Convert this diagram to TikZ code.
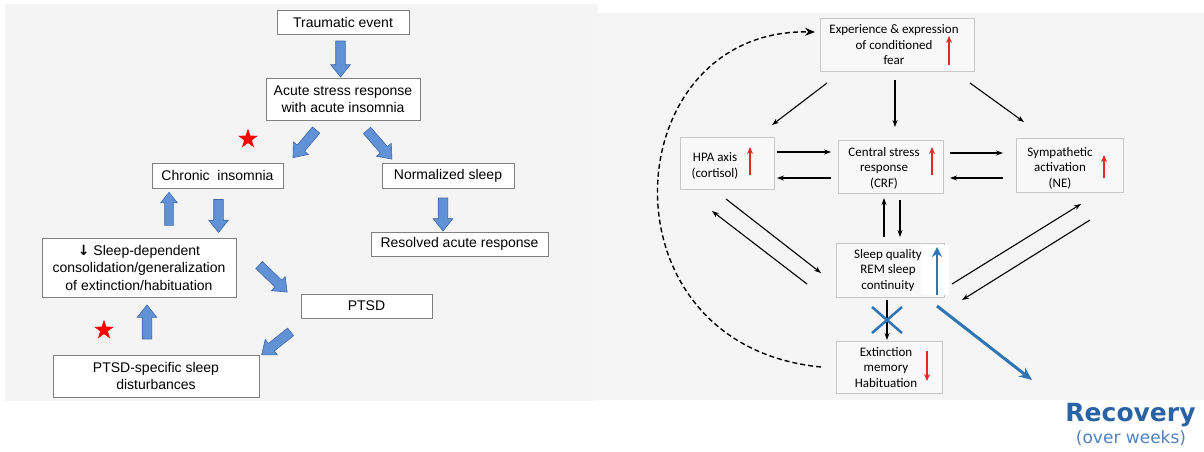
\documentclass[tikz,border=0pt]{standalone}
\usepackage{fontspec}
\setmainfont{Liberation Sans}
\newfontfamily\lsans{Liberation Sans}
\newfontfamily\calib{Carlito}
\newfontfamily\dvs{DejaVu Sans}
\usetikzlibrary{shapes.arrows,shapes.geometric,arrows.meta}
\definecolor{lbg}{RGB}{244,244,244}
\definecolor{rbg}{RGB}{245,245,245}
\definecolor{rboxfill}{RGB}{248,248,248}
\definecolor{lborder}{RGB}{128,128,128}
\definecolor{rborder}{RGB}{200,200,200}
\definecolor{bfill}{RGB}{98,146,214}
\definecolor{bdraw}{RGB}{62,104,170}
\definecolor{oblue}{RGB}{46,117,182}
\definecolor{ored}{RGB}{226,40,40}
\definecolor{recblue}{RGB}{40,100,165}
\definecolor{wkblue}{RGB}{80,130,190}
\begin{document}
\begin{tikzpicture}[x=1pt,y=-1pt,
 lbox/.style={draw=lborder,fill=white,line width=0.8pt,inner sep=0pt,align=center,font=\lsans\fontsize{14}{17.5}\selectfont},
 rbox/.style={draw=rborder,fill=rboxfill,line width=0.8pt,inner sep=0pt},
 rtext/.style={font=\calib\fontsize{13}{15.5}\selectfont,align=center,inner sep=0pt},
 barrow/.style={single arrow,draw=bdraw,fill=bfill,line width=0.6pt,inner xsep=0pt,inner ysep=4.5pt,single arrow head extend=5pt,single arrow tip angle=77,anchor=center},
 thinbarrow/.style={barrow,inner ysep=4pt,single arrow head extend=4pt},
 arr/.style={line width=1.1pt,-{Stealth[length=7pt,width=5pt]}},
 redarr/.style={ored,line width=1.8pt,-{Stealth[length=7pt,width=6pt]}},
 redstar/.style={star,star points=5,star point ratio=2.6,fill=red,draw=none,minimum size=21pt,inner sep=0pt},
 xline/.style={oblue,line width=2.5pt},
]
\useasboundingbox (0,0) rectangle (1204,451);
\fill[white] (0,0) rectangle (1204,451);
\fill[lbg] (5,4) rectangle (598,401);
\fill[rbg] (598,13) rectangle (1204,400);

% ---------------- left panel ----------------
\node[lbox,minimum width=132pt,minimum height=24pt] (trauma) at (343,22) {Traumatic event};
\node[lbox,minimum width=154pt,minimum height=42pt] (acute) at (343,99) {Acute stress response\\with acute insomnia};
\node[lbox,minimum width=131pt,minimum height=25pt] (chronic) at (217.5,175.5) {Chronic\ \ insomnia};
\node[lbox,minimum width=132pt,minimum height=25pt] (normal) at (448,175.5) {Normalized sleep};
\node[lbox,minimum width=177pt,minimum height=24pt] (resolved) at (459.5,244) {Resolved acute response};
\node[lbox,minimum width=194pt,minimum height=59pt] (sleepdep) at (139,267.5) {{\dvs\bfseries ↓} Sleep-dependent\\consolidation/generalization\\of extinction/habituation};
\node[lbox,minimum width=131pt,minimum height=24pt] (ptsd) at (366.5,306) {PTSD};
\node[lbox,minimum width=206pt,minimum height=42pt] (ptsdsleep) at (156,376) {PTSD-specific sleep\\disturbances};

\node[barrow,minimum height=36pt,rotate=-90] (b1) at (340.5,56) {};
\node[barrow,minimum height=36pt,rotate=-130] (b2) at (306.5,141.5) {};
\node[barrow,minimum height=38pt,rotate=-49] (b3) at (377.5,142.5) {};
\node[thinbarrow,minimum height=33pt,rotate=90] (b4) at (169,211.5) {};
\node[barrow,minimum height=33pt,rotate=-90] (b5) at (218.5,213) {};
\node[barrow,minimum height=33pt,rotate=-90] (b6) at (443,211.5) {};
\node[barrow,minimum height=39pt,rotate=-44] (b7) at (271,276.5) {};
\node[barrow,minimum height=37pt,rotate=-141.6] (b8) at (278.5,341.5) {};
\node[barrow,minimum height=34pt,rotate=90] (b9) at (147,325) {};

\node[redstar] (star1) at (248,139) {};
\node[redstar] (star2) at (104,330) {};

% ---------------- right panel ----------------
\node[rbox,minimum width=154pt,minimum height=53pt] (exp) at (897,44.5) {};
\node[rbox,minimum width=94pt,minimum height=52pt] (hpa) at (727,163) {};
\node[rbox,minimum width=105pt,minimum height=53pt] (crf) at (890.5,166.5) {};
\node[rbox,minimum width=107pt,minimum height=54pt] (sym) at (1069.5,165) {};
\node[rbox,minimum width=108pt,minimum height=54pt] (slp) at (890,270) {};
\node[rbox,minimum width=106pt,minimum height=52pt] (ext) at (889,367) {};
\fill[white] (921,245) rectangle (949,295);

\node[rtext] (expT) at (894,45) {Experience \& expression\\of conditioned\\fear};
\node[rtext] (hpaT) at (715,166) {HPA axis\\(cortisol)};
\node[rtext] (crfT) at (884,168) {Central stress\\response\\(CRF)};
\node[rtext] (symT) at (1060,168) {Sympathetic\\activation\\(NE)};
\node[rtext] (slpT) at (888,270.5) {Sleep quality\\REM sleep\\continuity};
\node[rtext] (extT) at (886,367.5) {Extinction\\memory\\Habituation};

% red indicator arrows
\coordinate (rA1) at (949,65); \coordinate (rA2) at (949,36);
\coordinate (rB1) at (750,175); \coordinate (rB2) at (750,147);
\coordinate (rC1) at (932,175); \coordinate (rC2) at (932,147);
\coordinate (rD1) at (1104,178); \coordinate (rD2) at (1104,155);
\coordinate (rE1) at (927,351); \coordinate (rE2) at (927,381);
\draw[redarr] (rA1) -- (rA2);
\draw[redarr] (rB1) -- (rB2);
\draw[redarr] (rC1) -- (rC2);
\draw[redarr] (rD1) -- (rD2);
\draw[redarr] (rE1) -- (rE2);

% blue sleep arrow
\coordinate (bs1) at (937,295); \coordinate (bs2) at (937,247);
\draw[oblue,line width=2.5pt,-{Stealth[length=10pt,width=10pt]}] (bs1) -- (bs2);

% black connectors
\coordinate (e1) at (827,83); \coordinate (e2) at (772,125);
\coordinate (e3) at (895,80); \coordinate (e4) at (895,127);
\coordinate (e5) at (970,83); \coordinate (e6) at (1024,122);
\draw[arr] (e1) -- (e2);
\draw[arr] (e3) -- (e4);
\draw[arr] (e5) -- (e6);
\coordinate (h1) at (777,152); \coordinate (h2) at (831,152);
\coordinate (h3) at (831,178); \coordinate (h4) at (777,178);
\coordinate (s1) at (950,153); \coordinate (s2) at (1003,153);
\coordinate (s3) at (1003,178); \coordinate (s4) at (950,178);
\draw[arr] (h1) -- (h2);
\draw[arr] (h3) -- (h4);
\draw[arr] (s1) -- (s2);
\draw[arr] (s3) -- (s4);
\coordinate (v1) at (884,237); \coordinate (v2) at (884,198);
\coordinate (v3) at (900,200); \coordinate (v4) at (900,237);
\draw[arr] (v1) -- (v2);
\draw[arr] (v3) -- (v4);
\coordinate (d1) at (726,199); \coordinate (d2) at (821,273);
\coordinate (d3) at (807,284); \coordinate (d4) at (712,211);
\coordinate (d5) at (952,284); \coordinate (d6) at (1081,204);
\coordinate (d7) at (1090,220); \coordinate (d8) at (962,300);
\draw[arr] (d1) -- (d2);
\draw[arr] (d3) -- (d4);
\draw[arr] (d5) -- (d6);
\draw[arr] (d7) -- (d8);

% blocked arrow sleep -> extinction
\coordinate (k1) at (887,300); \coordinate (k2) at (887,340);
\draw[arr] (k1) -- (k2);
\coordinate (x1) at (872,307); \coordinate (x2) at (902,333);
\coordinate (x3) at (902,307); \coordinate (x4) at (872,333);
\draw[xline] (x1) -- (x2);
\draw[xline] (x3) -- (x4);

% dashed feedback loop
\coordinate (dstart) at (821,367); \coordinate (dend) at (815,32);
\draw[line width=1.4pt,dash pattern=on 5pt off 3pt,-{Stealth[length=10pt,width=8pt]}]
  (dstart) .. controls (595,345) and (615,28) .. (dend);

% recovery
\coordinate (r1) at (937,306); \coordinate (r2) at (1032,380);
\draw[oblue,line width=3pt,-{Stealth[length=13pt,width=11pt]}] (r1) -- (r2);
\node[font=\dvs\bfseries\fontsize{25}{30}\selectfont,text=recblue,anchor=base,inner sep=0pt] (rec) at (1130.5,421) {Recovery};
\node[font=\dvs\fontsize{17}{20}\selectfont,text=wkblue,anchor=base,inner sep=0pt] (wk) at (1131,443) {(over weeks)};
\end{tikzpicture}
\end{document}
